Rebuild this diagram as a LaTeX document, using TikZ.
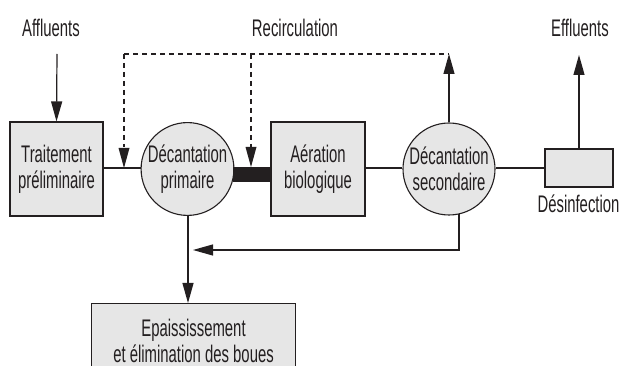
\documentclass[tikz,border=0pt]{standalone}
\usepackage{fontspec}
\setmainfont{Liberation Sans}[FakeStretch=0.62]
\usetikzlibrary{arrows.meta,calc}
\definecolor{boxgray}{HTML}{E6E6E6}
\definecolor{ink}{HTML}{231F20}
\begin{document}
\begin{tikzpicture}[x=1pt,y=-1pt,
  every node/.style={font=\fontsize{24}{26}\selectfont, text=ink, align=center, inner sep=0pt},
  unit/.style={draw=ink, fill=boxgray, line width=1.1pt},
  tank/.style={unit, circle, minimum size=92pt},
  flow/.style={draw=ink, line width=1.2pt},
  tip/.style={-{Triangle[length=20pt,width=11pt]}},
  recirc/.style={flow, dash pattern=on 5pt off 4pt}]
  \useasboundingbox (0,0) rectangle (622,366);

  % treatment units
  \node[unit, minimum width=93pt, minimum height=94pt] (pre) at (56.5,169) {Traitement\\préliminaire};
  \node[tank] (dec1) at (187.5,169) {Décantation\\primaire};
  \node[unit, minimum width=94pt, minimum height=94pt] (aer) at (318,169) {Aération\\biologique};
  \node[tank] (dec2) at (449,169) {Décantation\\secondaire};
  \node[unit, minimum width=68pt, minimum height=38pt] (des) at (579,168) {};
  \node[anchor=base] (deslbl) at (578.5,213) {Désinfection};
  \node[unit, minimum width=204pt, minimum height=74pt, anchor=north west] (boues) at (91,303) {Epaississement\\et élimination des boues};

  % labels
  \node[anchor=base] (aff) at (51,37) {Affluents};
  \node[anchor=base] (rec) at (295,37) {Recirculation};
  \node[anchor=base] (eff) at (580,37) {Effluents};

  % auxiliary points
  \coordinate (main) at (0,168);
  \coordinate (affs) at (57,54);
  \coordinate (r1) at (124,54);
  \coordinate (r2) at (251,54);
  \coordinate (r3) at (449,54);
  \coordinate (r1e) at (124,168);
  \coordinate (r2e) at (251,167);
  \coordinate (effe) at (579,55);
  \coordinate (s0) at (459,213.9);
  \coordinate (s1) at (459,250);
  \coordinate (s2) at (193,250);
  \coordinate (b0) at (188,215);
  \coordinate (b1) at (188,303);

  % main flow line
  \draw[flow] (pre.east |- main) -- (dec1.west |- main);
  \fill[ink] (233,167) rectangle (272,182);
  \draw[flow] (aer.east |- main) -- (dec2.west |- main);
  \draw[flow] (dec2.east |- main) -- (des.west |- main);

  % inflow and outflows
  \draw[flow, tip] (affs) -- (pre.north);
  \draw[flow, tip] (dec2.north) -- (r3);
  \draw[flow, tip] (des.north) -- (effe);

  % recirculation
  \draw[recirc] (r1) -- (r3);
  \draw[recirc] (r1) -- ($(r1)!0.82!(r1e)$);
  \draw[recirc] (r2) -- ($(r2)!0.82!(r2e)$);
  \fill[ink] (r1e) -- ++(-5.5,-20) -- ++(11,0) -- cycle;
  \fill[ink] (r2e) -- ++(-5.5,-20) -- ++(11,0) -- cycle;

  % sludge return and removal
  \draw[flow, tip] (s0) -- (s1) -- (s2);
  \draw[flow, tip] (b0) -- (b1);
\end{tikzpicture}
\end{document}
